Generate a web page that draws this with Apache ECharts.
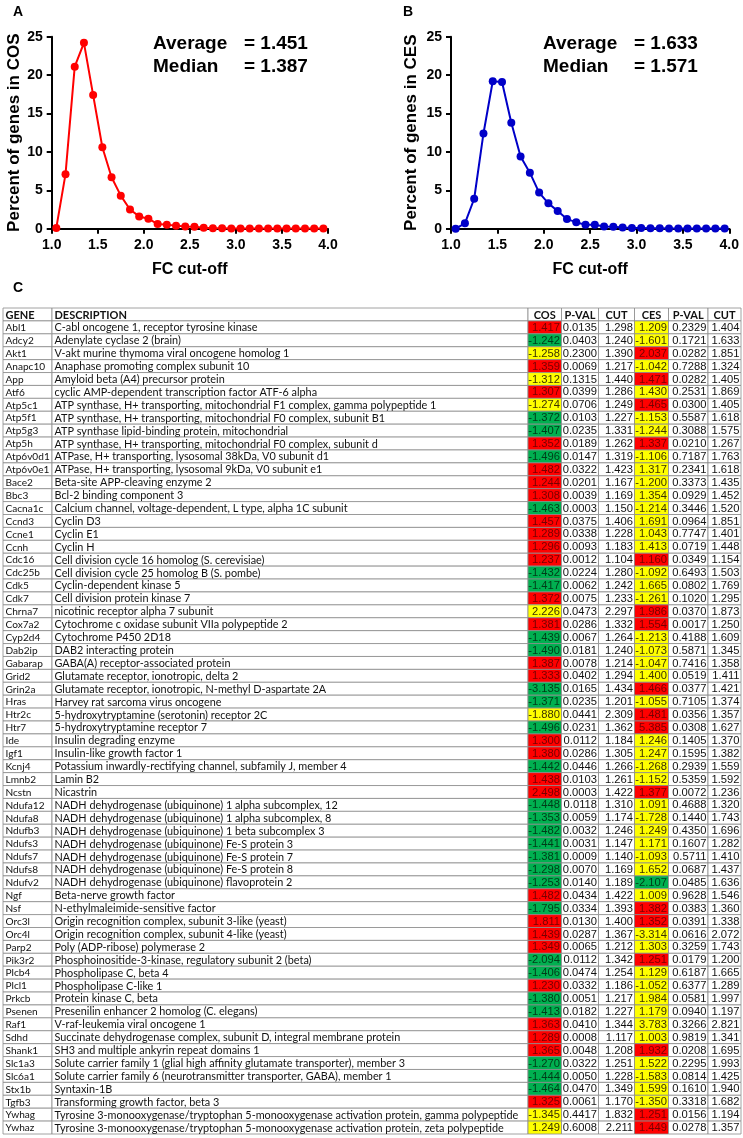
<!DOCTYPE html>
<html>
<head>
<meta charset="utf-8">
<style>
  html, body { margin: 0; padding: 0; background: #fff; }
  #chart { width: 743px; height: 1138px; }
</style>
<script src="https://cdn.jsdelivr.net/npm/echarts@6/dist/echarts.min.js"></script>
</head>
<body>
<div id="chart"></div>
<script>
/* Panels A/B: % of genes per FC cut-off bin; panel C: per-gene FC table (COS / CES). */

// ---- data: distribution curves ----
const fcCutoff = [1.05, 1.15, 1.25, 1.35, 1.45, 1.55, 1.65, 1.75, 1.85, 1.95,
                  2.05, 2.15, 2.25, 2.35, 2.45, 2.55, 2.65, 2.75, 2.85, 2.95,
                  3.05, 3.15, 3.25, 3.35, 3.45, 3.55, 3.65, 3.75, 3.85, 3.95];
const cosPercent = [0.1, 7.1, 21.1, 24.2, 17.4, 10.6, 6.7, 4.3, 2.5, 1.6,
                    1.3, 0.6, 0.5, 0.4, 0.3, 0.25, 0.12, 0.06, 0.05, 0.04,
                    0.04, 0.03, 0.03, 0.03, 0.02, 0.02, 0.02, 0.02, 0.01, 0.01];
const cesPercent = [0.0, 0.7, 3.9, 12.4, 19.2, 19.1, 13.8, 9.4, 7.3, 4.7,
                    3.3, 2.3, 1.25, 0.85, 0.5, 0.5, 0.3, 0.25, 0.15, 0.1,
                    0.08, 0.06, 0.05, 0.04, 0.04, 0.03, 0.03, 0.02, 0.02, 0.02];
const cosStats = { average: '1.451', median: '1.387' };
const cesStats = { average: '1.633', median: '1.571' };

// ---- data: table ----
const headers = ['GENE', 'DESCRIPTION', 'COS', 'P-VAL', 'CUT', 'CES', 'P-VAL', 'CUT'];
const genes = ['Abl1', 'Adcy2', 'Akt1', 'Anapc10', 'App', 'Atf6', 'Atp5c1', 'Atp5f1', 'Atp5g3', 'Atp5h',
  'Atp6v0d1', 'Atp6v0e1', 'Bace2', 'Bbc3', 'Cacna1c', 'Ccnd3', 'Ccne1', 'Ccnh', 'Cdc16', 'Cdc25b',
  'Cdk5', 'Cdk7', 'Chrna7', 'Cox7a2', 'Cyp2d4', 'Dab2ip', 'Gabarap', 'Grid2', 'Grin2a', 'Hras',
  'Htr2c', 'Htr7', 'Ide', 'Igf1', 'Kcnj4', 'Lmnb2', 'Ncstn', 'Ndufa12', 'Ndufa8', 'Ndufb3',
  'Ndufs3', 'Ndufs7', 'Ndufs8', 'Ndufv2', 'Ngf', 'Nsf', 'Orc3l', 'Orc4l', 'Parp2', 'Pik3r2',
  'Plcb4', 'Plcl1', 'Prkcb', 'Psenen', 'Raf1', 'Sdhd', 'Shank1', 'Slc1a3', 'Slc6a1', 'Stx1b',
  'Tgfb3', 'Ywhag', 'Ywhaz'];
const descriptions = [
  'C-abl oncogene 1, receptor tyrosine kinase',
  'Adenylate cyclase 2 (brain)',
  'V-akt murine thymoma viral oncogene homolog 1',
  'Anaphase promoting complex subunit 10',
  'Amyloid beta (A4) precursor protein',
  'cyclic AMP-dependent transcription factor ATF-6 alpha',
  'ATP synthase, H+ transporting, mitochondrial F1 complex, gamma polypeptide 1',
  'ATP synthase, H+ transporting, mitochondrial F0 complex, subunit B1',
  'ATP synthase lipid-binding protein, mitochondrial',
  'ATP synthase, H+ transporting, mitochondrial F0 complex, subunit d',
  'ATPase, H+ transporting, lysosomal 38kDa, V0 subunit d1',
  'ATPase, H+ transporting, lysosomal 9kDa, V0 subunit e1',
  'Beta-site APP-cleaving enzyme 2',
  'Bcl-2 binding component 3',
  'Calcium channel, voltage-dependent, L type, alpha 1C subunit',
  'Cyclin D3',
  'Cyclin E1',
  'Cyclin H',
  'Cell division cycle 16 homolog (S. cerevisiae)',
  'Cell division cycle 25 homolog B (S. pombe)',
  'Cyclin-dependent kinase 5',
  'Cell division protein kinase 7',
  'nicotinic receptor alpha 7 subunit',
  'Cytochrome c oxidase subunit VIIa polypeptide 2',
  'Cytochrome P450 2D18',
  'DAB2 interacting protein',
  'GABA(A) receptor-associated protein',
  'Glutamate receptor, ionotropic, delta 2',
  'Glutamate receptor, ionotropic, N-methyl D-aspartate 2A',
  'Harvey rat sarcoma virus oncogene',
  '5-hydroxytryptamine (serotonin) receptor 2C',
  '5-hydroxytryptamine receptor 7',
  'Insulin degrading enzyme',
  'Insulin-like growth factor 1',
  'Potassium inwardly-rectifying channel, subfamily J, member 4',
  'Lamin B2',
  'Nicastrin',
  'NADH dehydrogenase (ubiquinone) 1 alpha subcomplex, 12',
  'NADH dehydrogenase (ubiquinone) 1 alpha subcomplex, 8',
  'NADH dehydrogenase (ubiquinone) 1 beta subcomplex 3',
  'NADH dehydrogenase (ubiquinone) Fe-S protein 3',
  'NADH dehydrogenase (ubiquinone) Fe-S protein 7',
  'NADH dehydrogenase (ubiquinone) Fe-S protein 8',
  'NADH dehydrogenase (ubiquinone) flavoprotein 2',
  'Beta-nerve growth factor',
  'N-ethylmaleimide-sensitive factor',
  'Origin recognition complex, subunit 3-like (yeast)',
  'Origin recognition complex, subunit 4-like (yeast)',
  'Poly (ADP-ribose) polymerase 2',
  'Phosphoinositide-3-kinase, regulatory subunit 2 (beta)',
  'Phospholipase C, beta 4',
  'Phospholipase C-like 1',
  'Protein kinase C, beta',
  'Presenilin enhancer 2 homolog (C. elegans)',
  'V-raf-leukemia viral oncogene 1',
  'Succinate dehydrogenase complex, subunit D, integral membrane protein',
  'SH3 and multiple ankyrin repeat domains 1',
  'Solute carrier family 1 (glial high affinity glutamate transporter), member 3',
  'Solute carrier family 6 (neurotransmitter transporter, GABA), member 1',
  'Syntaxin-1B',
  'Transforming growth factor, beta 3',
  'Tyrosine 3-monooxygenase/tryptophan 5-monooxygenase activation protein, gamma polypeptide',
  'Tyrosine 3-monooxygenase/tryptophan 5-monooxygenase activation protein, zeta polypeptide'];
const cosFC = [1.417, -1.242, -1.258, 1.359, -1.312, 1.307, -1.274, -1.372, -1.407, 1.352,
  -1.496, 1.482, 1.244, 1.308, -1.463, 1.457, 1.289, 1.296, 1.237, -1.432,
  -1.417, 1.372, 2.226, 1.381, -1.439, -1.490, 1.387, 1.333, -3.135, -1.371,
  -1.880, -1.496, 1.300, 1.380, -1.442, 1.438, 2.498, -1.448, -1.353, -1.482,
  -1.441, -1.381, -1.298, -1.253, 1.482, -1.795, 1.811, 1.439, 1.349, -2.094,
  -1.406, 1.230, -1.380, -1.413, 1.363, 1.289, 1.365, -1.270, -1.444, -1.464,
  1.325, -1.345, 1.249];
const cosP = [0.0135, 0.0403, 0.2300, 0.0069, 0.1315, 0.0399, 0.0706, 0.0103, 0.0235, 0.0189,
  0.0147, 0.0322, 0.0201, 0.0039, 0.0003, 0.0375, 0.0338, 0.0093, 0.0012, 0.0224,
  0.0062, 0.0075, 0.0473, 0.0286, 0.0067, 0.0181, 0.0078, 0.0402, 0.0165, 0.0235,
  0.0441, 0.0231, 0.0112, 0.0286, 0.0446, 0.0103, 0.0003, 0.0118, 0.0059, 0.0032,
  0.0031, 0.0009, 0.0070, 0.0140, 0.0434, 0.0334, 0.0130, 0.0287, 0.0065, 0.0112,
  0.0474, 0.0332, 0.0051, 0.0182, 0.0410, 0.0008, 0.0048, 0.0322, 0.0050, 0.0470,
  0.0061, 0.4417, 0.6008];
const cosCut = [1.298, 1.240, 1.390, 1.217, 1.440, 1.286, 1.249, 1.227, 1.331, 1.262,
  1.319, 1.423, 1.167, 1.169, 1.150, 1.406, 1.228, 1.183, 1.104, 1.280,
  1.242, 1.233, 2.297, 1.332, 1.264, 1.240, 1.214, 1.294, 1.434, 1.201,
  2.309, 1.362, 1.184, 1.305, 1.266, 1.261, 1.422, 1.310, 1.174, 1.246,
  1.147, 1.140, 1.169, 1.189, 1.422, 1.393, 1.400, 1.367, 1.212, 1.342,
  1.254, 1.186, 1.217, 1.227, 1.344, 1.117, 1.208, 1.251, 1.228, 1.349,
  1.170, 1.832, 2.211];
const cesFC = [1.209, -1.601, 2.037, -1.042, 1.471, 1.430, 1.465, -1.153, -1.244, 1.337,
  -1.106, 1.317, -1.200, 1.354, -1.214, 1.691, 1.043, 1.413, 1.160, -1.092,
  1.665, -1.261, 1.986, 1.554, -1.213, -1.073, -1.047, 1.400, 1.466, -1.055,
  1.481, 5.385, 1.246, 1.247, -1.268, -1.152, 1.377, 1.091, -1.728, 1.249,
  1.171, -1.093, 1.652, -2.107, 1.009, 1.382, 1.352, -3.314, 1.303, 1.251,
  1.129, -1.052, 1.984, 1.179, 3.783, 1.003, 1.932, 1.522, -1.583, 1.599,
  -1.350, 1.251, 1.449];
const cesP = [0.2329, 0.1721, 0.0282, 0.7288, 0.0282, 0.2531, 0.0300, 0.5587, 0.3088, 0.0210,
  0.7187, 0.2341, 0.3373, 0.0929, 0.3446, 0.0964, 0.7747, 0.0719, 0.0349, 0.6493,
  0.0802, 0.1020, 0.0370, 0.0017, 0.4188, 0.5871, 0.7416, 0.0519, 0.0377, 0.7105,
  0.0356, 0.0308, 0.1405, 0.1595, 0.2939, 0.5359, 0.0072, 0.4688, 0.1440, 0.4350,
  0.1607, 0.5711, 0.0687, 0.0485, 0.9628, 0.0383, 0.0391, 0.0616, 0.3259, 0.0179,
  0.6187, 0.6377, 0.0581, 0.0940, 0.3266, 0.9819, 0.0208, 0.2295, 0.0814, 0.1610,
  0.3318, 0.0156, 0.0278];
const cesCut = [1.404, 1.633, 1.851, 1.324, 1.405, 1.869, 1.405, 1.618, 1.575, 1.267,
  1.763, 1.618, 1.435, 1.452, 1.520, 1.851, 1.401, 1.448, 1.154, 1.503,
  1.769, 1.295, 1.873, 1.250, 1.609, 1.345, 1.358, 1.411, 1.421, 1.374,
  1.357, 1.627, 1.370, 1.382, 1.559, 1.592, 1.236, 1.320, 1.743, 1.696,
  1.282, 1.410, 1.437, 1.636, 1.546, 1.360, 1.338, 2.072, 1.743, 1.200,
  1.665, 1.289, 1.997, 1.197, 2.821, 1.341, 1.695, 1.993, 1.425, 1.940,
  1.682, 1.194, 1.357];

// ---- layout / style ----
const FONT = "'Liberation Sans', Arial, sans-serif";
const CELL_FONT = "Lato, 'Noto Sans', sans-serif";
const NUM_FONT = "'Liberation Sans Narrow', 'Liberation Sans', sans-serif";
const colEdges = [3, 52, 528, 561.5, 598.5, 634.5, 668.5, 708, 741];   // page px
const fills = { up: '#ff0000', down: '#00b050', ns: '#ffff00' };
const inks = { up: '#780000', down: '#003b18', ns: '#3d3300' };

// significant (p < 0.05 and |FC| beyond its cut) -> red up / green down, else yellow
function fcClass(fc, p, cut) {
  if (p < 0.05 && Math.abs(fc) >= cut) return fc > 0 ? 'up' : 'down';
  return 'ns';
}

const rowLabels = ['HEADER'].concat(genes);

function rowCells(i) {
  if (i === 0) {
    return headers.map((h, j) => ({ text: h, align: j < 2 ? 'left' : 'center', bold: true }));
  }
  const g = i - 1;
  return [
    { text: genes[g], align: 'left', gene: true },
    { text: descriptions[g], align: 'left' },
    { text: cosFC[g].toFixed(3), align: 'right', num: true, cls: fcClass(cosFC[g], cosP[g], cosCut[g]) },
    { text: cosP[g].toFixed(4), align: 'right', num: true },
    { text: cosCut[g].toFixed(3), align: 'right', num: true },
    { text: cesFC[g].toFixed(3), align: 'right', num: true, cls: fcClass(cesFC[g], cesP[g], cesCut[g]) },
    { text: cesP[g].toFixed(4), align: 'right', num: true },
    { text: cesCut[g].toFixed(3), align: 'right', num: true }
  ];
}

function cellFont(c) {
  if (c.bold) return 'bold 11px ' + CELL_FONT;
  if (c.num) return '11.2px ' + NUM_FONT;
  if (c.gene) return '10.1px ' + CELL_FONT;
  return '10.85px ' + CELL_FONT;
}

function renderRow(params, api) {
  const i = api.value(1);
  const h = api.size([0, 1])[1];
  const yc = api.coord([colEdges[0], i])[1];
  const children = [];
  rowCells(i).forEach((c, j) => {
    const x0 = api.coord([colEdges[j], i])[0];
    const x1 = api.coord([colEdges[j + 1], i])[0];
    children.push({
      type: 'rect',
      shape: { x: x0, y: yc - h / 2, width: x1 - x0, height: h },
      style: { fill: c.cls ? fills[c.cls] : '#fff', stroke: '#8c8c8c', lineWidth: 0.8 }
    });
    const tx = c.align === 'left' ? x0 + 2.5 : c.align === 'right' ? x1 - 1.5 : (x0 + x1) / 2;
    children.push({
      type: 'text',
      style: {
        text: c.text, x: tx, y: yc + 0.5, align: c.align, verticalAlign: 'middle',
        font: cellFont(c), fill: c.cls ? inks[c.cls] : '#111'
      }
    });
  });
  return { type: 'group', children };
}

function plotXAxis(gridIndex) {
  return {
    gridIndex, type: 'value', min: 1, max: 4, interval: 0.5,
    name: 'FC cut-off', nameLocation: 'middle', nameGap: 33,
    nameTextStyle: { fontFamily: FONT, fontWeight: 'bold', fontSize: 16, color: '#000' },
    axisLine: { show: true, onZero: false, lineStyle: { color: '#000', width: 2 } },
    axisTick: { show: true, length: 5, lineStyle: { color: '#000', width: 2 } },
    axisLabel: { fontFamily: FONT, fontWeight: 'bold', fontSize: 14, color: '#000', margin: 9,
                 formatter: (v) => v.toFixed(1) },
    splitLine: { show: false }
  };
}
function plotYAxis(gridIndex, name, gap) {
  return {
    gridIndex, type: 'value', min: 0, max: 25, interval: 5,
    name, nameLocation: 'middle', nameGap: gap,
    nameTextStyle: { fontFamily: FONT, fontWeight: 'bold', fontSize: 17, color: '#000' },
    axisLine: { show: true, onZero: false, lineStyle: { color: '#000', width: 2 } },
    axisTick: { show: true, length: 5, lineStyle: { color: '#000', width: 2 } },
    axisLabel: { fontFamily: FONT, fontWeight: 'bold', fontSize: 14, color: '#000', margin: 9 },
    splitLine: { show: false }
  };
}
function curve(idx, values, color) {
  return {
    type: 'line', xAxisIndex: idx, yAxisIndex: idx,
    data: fcCutoff.map((x, k) => [x, values[k]]),
    symbol: 'circle', symbolSize: 8, showSymbol: true,
    lineStyle: { color, width: 2 }, itemStyle: { color },
    silent: true
  };
}
function statText(x, stats) {
  const base = { font: 'bold 19px ' + FONT, fill: '#000', verticalAlign: 'middle' };
  return [
    { type: 'text', x: x, y: 44, style: { ...base, text: 'Average' } },
    { type: 'text', x: x + 91, y: 44, style: { ...base, text: '= ' + stats.average } },
    { type: 'text', x: x, y: 67, style: { ...base, text: 'Median' } },
    { type: 'text', x: x + 91, y: 67, style: { ...base, text: '= ' + stats.median } }
  ];
}
function panelLetter(x, y, t) {
  return { type: 'text', x, y, style: { text: t, font: 'bold 14px ' + FONT, fill: '#000', verticalAlign: 'middle' } };
}

const chart = echarts.init(document.getElementById('chart'), null, { renderer: 'canvas' });
chart.setOption({
  animation: false,
  backgroundColor: '#fff',
  grid: [
    { left: 51.7, top: 36.7, width: 276.3, height: 192 },
    { left: 451, top: 36.7, width: 278.3, height: 192 },
    { left: colEdges[0], top: 308, width: colEdges[colEdges.length - 1] - colEdges[0], height: 826 }
  ],
  xAxis: [
    plotXAxis(0), plotXAxis(1),
    { gridIndex: 2, type: 'value', min: colEdges[0], max: colEdges[colEdges.length - 1], show: false }
  ],
  yAxis: [
    plotYAxis(0, 'Percent of genes in COS', 28),
    plotYAxis(1, 'Percent of genes in CES', 31),
    { gridIndex: 2, type: 'category', data: rowLabels, inverse: true, show: false }
  ],
  series: [
    curve(0, cosPercent, '#ff0000'),
    curve(1, cesPercent, '#0000c8'),
    {
      type: 'custom', xAxisIndex: 2, yAxisIndex: 2,
      renderItem: renderRow,
      encode: { x: 0, y: 1 },
      data: rowLabels.map((g, i) => [colEdges[0], i]),
      silent: true
    }
  ],
  graphic: [
    panelLetter(13, 12, 'A'),
    panelLetter(403, 12, 'B'),
    panelLetter(13, 288, 'C'),
    ...statText(153, cosStats),
    ...statText(543, cesStats)
  ]
});
</script>
</body>
</html>
